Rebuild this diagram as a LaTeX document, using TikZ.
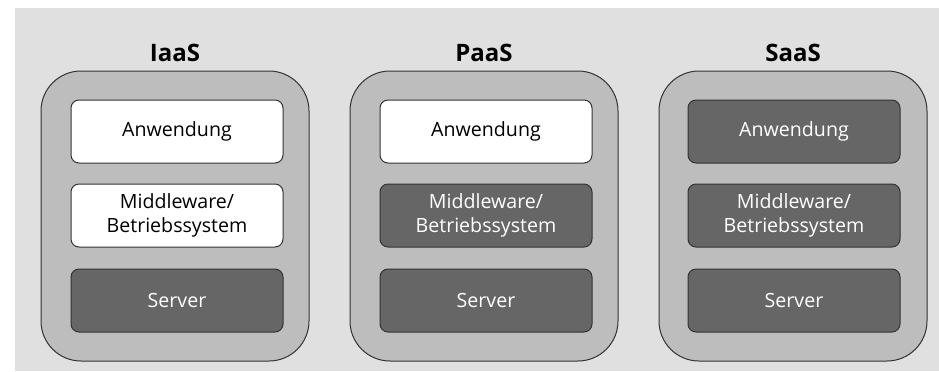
\documentclass[tikz,border=0pt]{standalone}
\usepackage{fontspec}
\setmainfont{Open Sans}
\usepackage{tikz}

\definecolor{bggray}{HTML}{E0E0E0}
\definecolor{stackgray}{HTML}{BDBDBD}
\definecolor{layerdark}{HTML}{666666}
\definecolor{linegray}{HTML}{333333}

\tikzset{
  stack/.style={draw=linegray, line width=0.5pt, fill=stackgray, rounded corners=20pt,
    minimum width=134pt, minimum height=145pt},
  layer/.style={draw=linegray, line width=0.5pt, rounded corners=4pt,
    minimum width=106pt, minimum height=31.5pt, align=center,
    font=\fontsize{9.8}{12}\selectfont},
  own/.style={layer, fill=white, text=black},
  provided/.style={layer, fill=layerdark, text=white},
  title/.style={font=\fontsize{12}{15}\selectfont\bfseries}
}

\begin{document}
\begin{tikzpicture}[x=0.5pt,y=-0.5pt]
        \useasboundingbox (0,0) rectangle (939,371);
        \fill[bggray] (15,8) rectangle (939,371);
        % IaaS
        \node[title] (iaas) at (175,53) {IaaS};
        \node[stack] (iaasbox) at (175,216) {};
        \node[own] (iaasapp) at (177,131.5) {Anwendung};
        \node[own] (iaasmw) at (177,215.5) {Middleware/\\Betriebssystem};
        \node[provided] (iaassrv) at (177,300.5) {Server};
        % PaaS
        \node[title] (paas) at (484,53) {PaaS};
        \node[stack] (paasbox) at (484,216) {};
        \node[own] (paasapp) at (486,131.5) {Anwendung};
        \node[provided] (paasmw) at (486,215.5) {Middleware/\\Betriebssystem};
        \node[provided] (paassrv) at (486,300.5) {Server};
        % SaaS
        \node[title] (saas) at (793,53) {SaaS};
        \node[stack] (saasbox) at (793,216) {};
        \node[provided] (saasapp) at (794,131.5) {Anwendung};
        \node[provided] (saasmw) at (794,215.5) {Middleware/\\Betriebssystem};
        \node[provided] (saassrv) at (794,300.5) {Server};
    \end{tikzpicture}
\end{document}
